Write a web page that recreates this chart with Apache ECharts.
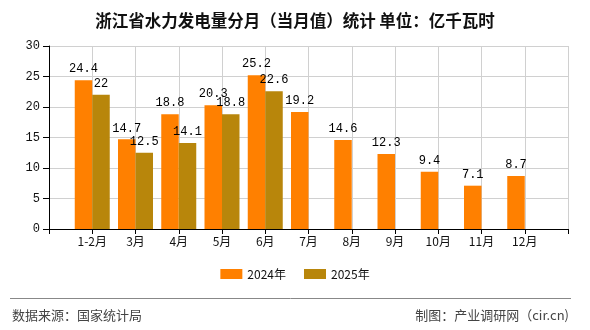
<!DOCTYPE html>
<html>
<head>
<meta charset="utf-8">
<script src="https://cdn.jsdelivr.net/npm/echarts@6/dist/echarts.min.js"></script>
<style>
html,body{margin:0;padding:0;background:#fff;}
#c{width:590px;height:330px;}
</style>
</head>
<body>
<div id="c"></div>
<script>
const categories = ['1-2月','3月','4月','5月','6月','7月','8月','9月','10月','11月','12月'];
const values2024 = [24.4, 14.7, 18.8, 20.3, 25.2, 19.2, 14.6, 12.3, 9.4, 7.1, 8.7];
const values2025 = [22, 12.5, 14.1, 18.8, 22.6];
const seriesNames = ['2024年', '2025年'];
const yTicks = [0, 5, 10, 15, 20, 25, 30];

const axisData = [''].concat(categories, ['']);
function pad(arr) {
  const out = [null];
  for (let i = 0; i < categories.length; i++) out.push(i < arr.length ? arr[i] : null);
  out.push(null);
  return out;
}

const numFont = 'Liberation Mono';
const cjkFont = '"Noto Sans CJK SC", sans-serif';

const chart = echarts.init(document.getElementById('c'), null, {renderer: 'canvas'});
chart.setOption({
  backgroundColor: '#ffffff',
  animation: false,
  title: {
    text: '浙江省水力发电量分月（当月值）统计 单位：亿千瓦时',
    left: 'center',
    top: 7,
    textStyle: {fontFamily: cjkFont, fontSize: 16.5, fontWeight: 'bold', color: '#111'}
  },
  legend: {
    bottom: 45,
    left: 'center',
    itemWidth: 22,
    itemHeight: 10,
    itemGap: 18,
    icon: 'rect',
    textStyle: {fontFamily: cjkFont, fontSize: 12, color: '#111'},
    data: seriesNames
  },
  grid: {left: 49, right: 22, top: 46, bottom: 101, containLabel: false},
  xAxis: {
    type: 'category',
    data: axisData,
    boundaryGap: false,
    axisLine: {lineStyle: {color: '#000', width: 1}},
    axisTick: {show: true, length: 5, lineStyle: {color: '#000'}},
    axisLabel: {fontFamily: cjkFont, fontSize: 12, color: '#111', margin: 6, interval: 0},
    splitLine: {show: true, lineStyle: {color: '#d0d0d0', width: 1}}
  },
  yAxis: {
    type: 'value',
    min: yTicks[0],
    max: yTicks[yTicks.length - 1],
    interval: 5,
    axisLine: {show: true, lineStyle: {color: '#000', width: 1}},
    axisTick: {show: true, length: 6, lineStyle: {color: '#000'}},
    axisLabel: {fontFamily: numFont, fontSize: 12, color: '#111', margin: 9},
    splitLine: {show: true, lineStyle: {color: '#d0d0d0', width: 1}}
  },
  series: [
    {
      name: seriesNames[0],
      type: 'bar',
      data: pad(values2024),
      barWidth: 17.5,
      barGap: '0%',
      itemStyle: {color: '#FF8000'},
      label: {show: true, position: 'top', distance: 5, fontFamily: numFont, fontSize: 12, color: '#000'}
    },
    {
      name: seriesNames[1],
      type: 'bar',
      data: pad(values2025),
      barWidth: 17.5,
      barGap: '0%',
      itemStyle: {color: '#B8860B'},
      label: {show: true, position: 'top', distance: 5, fontFamily: numFont, fontSize: 12, color: '#000'}
    }
  ],
  graphic: [
    {type: 'line', shape: {x1: 10, y1: 298.5, x2: 571, y2: 298.5}, style: {stroke: '#888', lineWidth: 1}},
    {type: 'text', left: 12, top: 309, style: {text: '数据来源：国家统计局', fontFamily: cjkFont, fontSize: 13, fill: '#444'}},
    {type: 'text', right: 21, top: 309, style: {text: '制图：产业调研网（cir.cn)', fontFamily: cjkFont, fontSize: 13, fill: '#444'}}
  ]
});
</script>
</body>
</html>
